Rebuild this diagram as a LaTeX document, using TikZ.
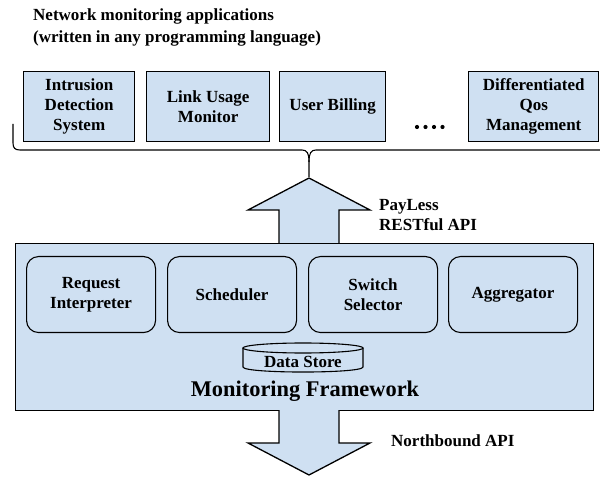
\documentclass[tikz,border=0pt]{standalone}
\usepackage{fontspec}
\setmainfont{Liberation Serif}
\usetikzlibrary{positioning,calc}

\definecolor{paleblue}{RGB}{207,224,242}

\tikzset{
        txt/.style={font=\bfseries\fontsize{17}{20}\selectfont, align=center, inner sep=0pt},
        appbox/.style={txt, draw, line width=1.4pt, fill=paleblue, minimum height=70pt, anchor=north west},
        modbox/.style={txt, draw, line width=1.1pt, fill=paleblue, rounded corners=12pt, minimum width=129pt, minimum height=76pt, anchor=north west},
        blockarrow/.style={line width=1.3pt, line join=miter}
}

\begin{document}
\begin{tikzpicture}[x=1pt, y=-1pt]
        \useasboundingbox (0,0) rectangle (600,478);

        \node[txt, align=left, anchor=west, font=\bfseries\fontsize{17}{22}\selectfont] (title) at (33,27) {Network monitoring applications\\(written in any programming language)};

        % applications
        \node[appbox, minimum width=111pt] (ids) at (23,71) {Intrusion\\Detection\\System};
        \node[appbox, minimum width=123pt] (link) at (146,71) {Link Usage\\Monitor};
        \node[appbox, minimum width=106pt] (billing) at (279,71) {User Billing};
        \node[appbox, minimum width=130pt] (qos) at (468,71) {Differentiated\\Qos\\Management};
        \coordinate (dots) at (417,127);
        \foreach \i in {0,...,3}
            \fill ($(dots)+(8.5*\i,0)$) circle (2.1pt);

        % brace
        \coordinate (bracetip) at (309,177);
        \draw[line width=1.1pt] (13,124) -- (13,143) .. controls (13,148) and (15,150) .. (20,150) -- (302,150)
              .. controls (307,150) and (309,153) .. (309,162) -- (bracetip);
        \draw[line width=1.1pt] (600,150) -- (316,150) .. controls (311,150) and (309,153) .. (309,162);

        % framework
        \node[draw, line width=1.2pt, fill=paleblue, minimum width=578pt, minimum height=167pt, anchor=north west, inner sep=0pt] (frame) at (15,243) {};

        \node[modbox] (interp) at (26,256) {Request\\Interpreter};
        \node[modbox] (sched) at (167,256) {Scheduler};
        \node[modbox] (selector) at (308,256) {Switch\\Selector};
        \node[modbox] (aggr) at (448,256) {Aggregator};

        \draw[line width=1.1pt, fill=paleblue] (243,348) -- (243,367) .. controls (243,373.7) and (363,373.7) .. (363,367) -- (363,348);
        \draw[line width=1.1pt, fill=paleblue] (303,348) ellipse [x radius=60pt, y radius=5pt];
        \node[txt, anchor=base] (store) at (303,367) {Data Store};

        \node[txt, anchor=base, font=\bfseries\fontsize{22.4}{26}\selectfont] (mf) at (305,396) {Monitoring Framework};

        % PayLess API (up)
        \coordinate (upbase) at (309,243);
        \fill[paleblue] ($(upbase)+(-30,0)$) -- ($(upbase)+(-30,-33)$) -- ($(upbase)+(-61,-33)$) -- ($(upbase)+(0,-65)$)
              -- ($(upbase)+(61,-33)$) -- ($(upbase)+(30,-33)$) -- ($(upbase)+(30,0)$) -- cycle;
        \draw[blockarrow] ($(upbase)+(-30,0)$) -- ($(upbase)+(-30,-33)$) -- ($(upbase)+(-61,-33)$) -- ($(upbase)+(0,-65)$)
              -- ($(upbase)+(61,-33)$) -- ($(upbase)+(30,-33)$) -- ($(upbase)+(30,0)$);
        \node[txt, align=left, anchor=west, font=\bfseries\fontsize{17}{20}\selectfont] (payless) at (379,215) {PayLess\\RESTful API};

        % Northbound API (down)
        \coordinate (downbase) at (309,410);
        \fill[paleblue] ($(downbase)+(-30,0)$) -- ($(downbase)+(-30,33)$) -- ($(downbase)+(-61,33)$) -- ($(downbase)+(0,65)$)
              -- ($(downbase)+(61,33)$) -- ($(downbase)+(30,33)$) -- ($(downbase)+(30,0)$) -- cycle;
        \draw[blockarrow] ($(downbase)+(-30,0)$) -- ($(downbase)+(-30,33)$) -- ($(downbase)+(-61,33)$) -- ($(downbase)+(0,65)$)
              -- ($(downbase)+(61,33)$) -- ($(downbase)+(30,33)$) -- ($(downbase)+(30,0)$);
        \node[txt, anchor=base west] (north) at (391,446) {Northbound API};

\end{tikzpicture}
\end{document}
